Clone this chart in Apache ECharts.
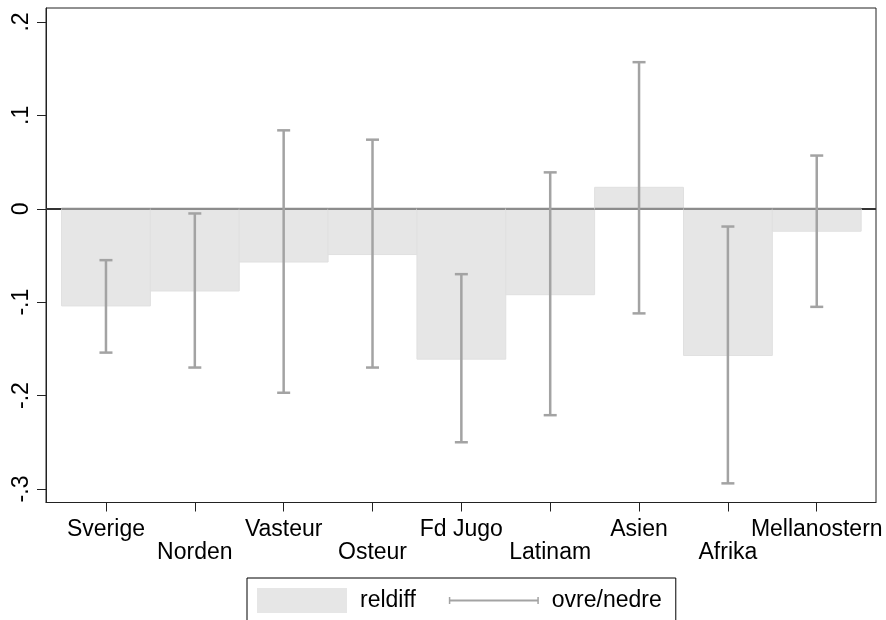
<!DOCTYPE html>
<html>
<head>
<meta charset="utf-8">
<script src="https://cdn.jsdelivr.net/npm/echarts@6/dist/echarts.min.js"></script>
<style>html,body{margin:0;padding:0;background:#fff}#c{width:886px;height:620px}</style>
</head>
<body>
<div id="c"></div>
<script>
const categories = ['Sverige','Norden','Vasteur','Osteur','Fd Jugo','Latinam','Asien','Afrika','Mellanostern'];
const reldiff = [-0.104,-0.088,-0.057,-0.049,-0.161,-0.092,0.023,-0.157,-0.024];
const ovre = [-0.055,-0.005,0.084,0.074,-0.070,0.039,0.157,-0.019,0.057];
const nedre = [-0.154,-0.170,-0.197,-0.170,-0.250,-0.221,-0.112,-0.294,-0.105];
const yTicks = [-0.3,-0.2,-0.1,0,0.1,0.2];

const FONT = 'Liberation Sans, Arial, sans-serif';
const positions = categories.map((_, i) => i);
const evenPos = positions.filter(i => i % 2 === 0);
const oddPos = positions.filter(i => i % 2 === 1);
const barData = positions.map(i => [i, reldiff[i]]);
const errData = positions.map(i => [i, ovre[i], nedre[i]]);
const X_MIN = -0.675, X_MAX = 8.667;

const chart = echarts.init(document.getElementById('c'), null, {renderer: 'canvas'});
const errIcon = 'path://M0,0h0.01v0.01h-0.01z M0,25h0.01v-0.01h-0.01z M0,11.5H90V13.5H0Z M0,9H1.5V16H0Z M88.5,9H90V16H88.5Z';
const labelBase = {fontSize: 23, color: '#000', fontFamily: FONT, showMinLabel: true, showMaxLabel: true, hideOverlap: false,
  formatter: v => categories[Math.round(v)]};
chart.setOption({
  animation: false,
  backgroundColor: '#fff',
  grid: {left: 46, right: 10, top: 8, bottom: 117.5, show: true, borderColor: '#222', borderWidth: 1, backgroundColor: 'transparent'},
  xAxis: [{
    type: 'value', min: X_MIN, max: X_MAX, position: 'bottom',
    axisLine: {show: true, onZero: false, lineStyle: {color: '#222', width: 1}},
    axisTick: {show: true, customValues: positions, length: 9, lineStyle: {color: '#222', width: 1}},
    axisLabel: Object.assign({customValues: evenPos, margin: 16}, labelBase),
    splitLine: {show: false}
  }, {
    type: 'value', min: X_MIN, max: X_MAX, position: 'bottom', offset: 0,
    axisLine: {show: false, onZero: false},
    axisTick: {show: false},
    axisLabel: Object.assign({customValues: oddPos, margin: 39}, labelBase),
    splitLine: {show: false}
  }],
  yAxis: {
    type: 'value', min: -0.3145, max: 0.215,
    axisLine: {show: true, onZero: false, lineStyle: {color: '#222', width: 1}},
    axisTick: {show: true, customValues: yTicks, length: 9, lineStyle: {color: '#222', width: 1}},
    axisLabel: {
      customValues: yTicks, rotate: 90, margin: 13, fontSize: 23, color: '#000', fontFamily: FONT,
      showMinLabel: true, showMaxLabel: true,
      formatter: v => v === 0 ? '0' : (v < 0 ? '-' : '') + '.' + Math.round(Math.abs(v) * 10)
    },
    splitLine: {show: false}
  },
  legend: {
    left: 247, top: 578, orient: 'horizontal',
    borderColor: '#000', borderWidth: 1, padding: [10, 14, 10, 10],
    itemWidth: 90, itemHeight: 25, itemGap: 33,
    textStyle: {fontSize: 23, color: '#000', fontFamily: FONT, padding: [0, 0, 0, 8]},
    data: [
      {name: 'reldiff', icon: 'rect', itemStyle: {color: '#e6e6e6'}},
      {name: 'ovre/nedre', icon: errIcon, itemStyle: {color: '#a3a3a3'}}
    ]
  },
  series: [
    {
      name: 'reldiff', type: 'custom', z: 2, xAxisIndex: 0,
      itemStyle: {color: '#e6e6e6'},
      data: barData,
      encode: {x: 0, y: 1},
      markLine: {
        silent: true, symbol: 'none', z: 1, label: {show: false},
        lineStyle: {color: '#333', width: 2, type: 'solid'},
        data: [{yAxis: 0}]
      },
      renderItem: (params, api) => {
        const x = api.value(0), v = api.value(1);
        const a = api.coord([x - 0.5, 0]);
        const b = api.coord([x + 0.5, v]);
        return {
          type: 'group',
          children: [
            {type: 'rect', shape: {x: a[0], y: Math.min(a[1], b[1]), width: b[0] - a[0], height: Math.abs(b[1] - a[1])},
             style: {fill: '#e6e6e6', stroke: '#e0e0e0', lineWidth: 1}},
            {type: 'line', shape: {x1: a[0], y1: a[1], x2: b[0], y2: a[1]}, style: {stroke: '#8c8c8c', lineWidth: 2.2}}
          ]
        };
      }
    },
    {
      name: 'ovre/nedre', type: 'custom', z: 3, xAxisIndex: 0,
      itemStyle: {color: '#a3a3a3'},
      data: errData,
      encode: {x: 0, y: [1, 2]},
      renderItem: (params, api) => {
        const x = api.value(0);
        const hi = api.coord([x, api.value(1)]);
        const lo = api.coord([x, api.value(2)]);
        const hw = 6.5;
        const st = {stroke: '#a3a3a3', lineWidth: 2.5};
        return {
          type: 'group',
          children: [
            {type: 'line', shape: {x1: hi[0], y1: hi[1], x2: lo[0], y2: lo[1]}, style: st},
            {type: 'line', shape: {x1: hi[0] - hw, y1: hi[1], x2: hi[0] + hw, y2: hi[1]}, style: st},
            {type: 'line', shape: {x1: lo[0] - hw, y1: lo[1], x2: lo[0] + hw, y2: lo[1]}, style: st}
          ]
        };
      }
    }
  ]
});
</script>
</body>
</html>
